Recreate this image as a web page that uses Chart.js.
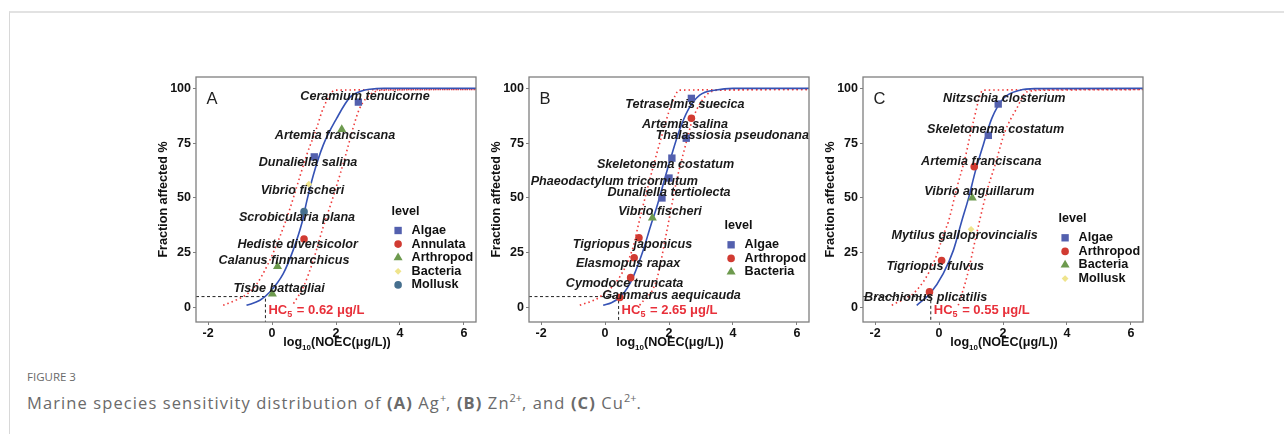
<!DOCTYPE html>
<html>
<head>
<meta charset="utf-8">
<script src="https://cdn.jsdelivr.net/npm/chart.js@4.4.0/dist/chart.umd.min.js"></script>
<style>
  body { margin: 0; background: #fff; width: 1284px; height: 434px; overflow: hidden; position: relative; }
  #frame { position: absolute; left: 9px; top: 11px; right: 0; bottom: 0; border-top: 2px solid #e2e2e2; border-left: 1px solid #d8d8d8; }
  .panel { position: absolute; top: 60px; width: 336px; height: 302px; }
  #capHead { position: absolute; left: 27px; top: 369px; font: 11.5px "Open Sans", sans-serif; color: #6a6a6a; }
  #capText { position: absolute; left: 27px; top: 391px; font: 16.5px "Open Sans", sans-serif; letter-spacing: 1.1px; color: #6a6a6a; white-space: nowrap; }
  #capText sup { font-size: 0.66em; line-height: 0; vertical-align: 0.6em; letter-spacing: 0; }
</style>
</head>
<body>
<div id="frame"></div>
<div class="panel" style="left:150px"><canvas id="chartA"></canvas></div>
<div class="panel" style="left:483px"><canvas id="chartB"></canvas></div>
<div class="panel" style="left:817px"><canvas id="chartC"></canvas></div>
<div id="capHead">FIGURE 3</div>
<div id="capText">Marine species sensitivity distribution of <b>(A)</b> Ag<sup>+</sup>, <b>(B)</b> Zn<sup>2+</sup>, and <b>(C)</b> Cu<sup>2+</sup>.</div>

<script>
// axis ticks shared by the three panels
const xTicks = [-2, 0, 2, 4, 6];
const yTicks = [0, 25, 50, 75, 100];
const X_MIN = -2.38, X_MAX = 6.38;
const Y_MIN = -6.6, Y_MAX = 105.2;

// Panel A - Ag+
const speciesA = ['Tisbe battagliai', 'Calanus finmarchicus', 'Hediste diversicolor', 'Scrobicularia plana',
  'Vibrio fischeri', 'Dunaliella salina', 'Artemia franciscana', 'Ceramium tenuicorne'];
const levelA = ['Arthropod', 'Arthropod', 'Annulata', 'Mollusk', 'Bacteria', 'Algae', 'Arthropod', 'Algae'];
const levelsA = ['Algae', 'Annulata', 'Arthropod', 'Bacteria', 'Mollusk'];
const noecA = [0.01, 0.17, 1.0, 1.0, 1.15, 1.32, 2.18, 2.70];
const fracA = [6.25, 18.75, 31.25, 43.75, 56.25, 68.75, 81.25, 93.75];
const labelXA = [0.22, 0.375, 0.80, 0.78, 0.95, 1.125, 1.97, 2.91];
const labelYA = [8.9, 21.3, 28.8, 40.9, 53.6, 66.0, 78.4, 96.2];
const fitXA = [-0.80, -0.38, -0.07, 0.35, 0.66, 0.95, 1.08, 1.29, 1.60, 2.02, 2.44, 2.80, 3.06, 3.50, 6.50];
const fitYA = [1.0, 3.3, 7.1, 15.5, 26.2, 39.5, 48.2, 60.4, 74.1, 86.3, 96.0, 98.8, 99.6, 100, 100];
const upXA = [-1.53, -1.11, -0.80, -0.49, -0.12, 0.24, 0.56, 0.82, 1.08, 1.39, 1.60, 1.97, 6.50];
const upYA = [1.0, 3.5, 6.0, 10.5, 20.1, 32.2, 45.2, 57.4, 69.5, 81.7, 90.9, 99.2, 99.5];
const loXA = [0.67, 0.98, 1.29, 1.60, 1.86, 2.12, 2.33, 2.53, 2.74, 3.10, 3.47, 6.50];
const loYA = [1.8, 9.4, 21.6, 36.8, 48.2, 60.4, 71.0, 81.7, 90.9, 97.5, 99.2, 99.5];
const hc5A = 0.62;

// Panel B - Zn2+
const speciesB = ['Gammarus aequicauda', 'Cymodoce truncata', 'Elasmopus rapax', 'Tigriopus japonicus',
  'Vibrio fischeri', 'Dunaliella tertiolecta', 'Phaeodactylum tricornutum', 'Skeletonema costatum',
  'Thalassiosia pseudonana', 'Artemia salina', 'Tetraselmis suecica'];
const levelB = ['Arthropod', 'Arthropod', 'Arthropod', 'Arthropod', 'Bacteria', 'Algae', 'Algae', 'Algae',
  'Algae', 'Arthropod', 'Algae'];
const levelsB = ['Algae', 'Arthropod', 'Bacteria'];
const noecB = [0.46, 0.80, 0.91, 1.06, 1.48, 1.78, 2.00, 2.09, 2.54, 2.70, 2.70];
const fracB = [4.55, 13.64, 22.73, 31.82, 40.91, 50.0, 59.09, 68.18, 77.27, 86.36, 95.45];
const labelXB = [2.08, 0.61, 0.72, 0.86, 1.72, 2.0, 0.29, 1.89, 3.98, 2.5, 2.5];
const labelYB = [5.6, 11.0, 20.1, 28.9, 43.7, 52.5, 57.4, 65.3, 78.4, 83.6, 92.7];
const fitXB = [-0.06, 0.20, 0.46, 0.70, 0.88, 1.19, 1.42, 1.61, 1.87, 2.07, 2.33, 2.59, 2.96, 3.48, 4.00, 6.50];
const fitYB = [1.0, 2.2, 4.6, 9.0, 14.0, 26.0, 37.0, 45.5, 58.9, 69.0, 81.0, 90.0, 96.9, 99.3, 100, 100];
const upXB = [-0.79, -0.17, 0.46, 0.88, 1.03, 1.19, 1.50, 1.81, 2.07, 2.33, 6.50];
const upYB = [1.0, 4.8, 14.0, 27.7, 37.0, 46.5, 64.0, 80.2, 92.4, 99.2, 99.5];
const loXB = [1.08, 1.61, 1.92, 2.00, 2.23, 2.49, 2.75, 3.17, 3.58, 6.50];
const loYB = [1.0, 12.5, 34.0, 40.0, 57.4, 72.6, 86.3, 96.9, 99.2, 99.5];
const hc5B = 2.65;

// Panel C - Cu2+
const speciesC = ['Brachionus plicatilis', 'Tigriopus fulvus', 'Mytilus galloprovincialis', 'Vibrio anguillarum',
  'Artemia franciscana', 'Skeletonema costatum', 'Nitzschia closterium'];
const levelC = ['Arthropod', 'Arthropod', 'Mollusk', 'Bacteria', 'Arthropod', 'Algae', 'Algae'];
const levelsC = ['Algae', 'Arthropod', 'Bacteria', 'Mollusk'];
const noecC = [-0.30, 0.08, 1.0, 1.04, 1.10, 1.54, 1.85];
const fracC = [7.14, 21.43, 35.71, 50.0, 64.29, 78.57, 92.86];
const labelXC = [-0.42, -0.12, 0.80, 1.26, 1.32, 1.77, 2.04];
const labelYC = [4.4, 18.9, 33.0, 52.8, 66.8, 81.3, 95.4];
const fitXC = [-0.70, -0.28, 0.13, 0.45, 0.71, 0.92, 1.13, 1.38, 1.65, 2.01, 2.53, 3.00, 6.50];
const fitYC = [1.0, 6.4, 15.5, 26.2, 39.5, 49.8, 61.9, 74.1, 86.3, 95.4, 99.2, 99.9, 100];
const upXC = [-1.48, -0.70, -0.18, 0.19, 0.29, 0.55, 0.81, 1.07, 1.38, 6.50];
const upYC = [1.0, 7.9, 20.1, 35.3, 39.1, 54.3, 68.0, 84.7, 99.2, 99.5];
const loXC = [0.60, 0.87, 1.13, 1.26, 1.49, 1.75, 2.06, 2.43, 2.74, 3.37, 6.50];
const loYC = [1.0, 14.0, 30.7, 39.1, 52.8, 65.0, 80.2, 90.9, 98.4, 99.2, 99.5];
const hc5C = 0.55;

// marker look by position in the level list (like ggplot's defaults)
const markers = [
  { color: '#5360ae', style: 'rect', radius: 5.2 },
  { color: '#d13b32', style: 'circle', radius: 3.8 },
  { color: '#6d9a4e', style: 'triangle', radius: 5.2 },
  { color: '#efe48c', style: 'rectRot', radius: 3.4 },
  { color: '#466f8e', style: 'circle', radius: 3.8 },
];

const BOLD = '"Liberation Sans", Arial, sans-serif';

function pairs(xs, ys) {
  return xs.map((v, i) => ({ x: v, y: ys[i] }));
}

// labels, legend, HC5 text, x title, panel letter and the box
const decorPlugin = {
  id: 'ssdDecor',
  afterDatasetsDraw(chart, args, p) {
    const ctx = chart.ctx;
    const xs = chart.scales.x, ys = chart.scales.y;
    const area = chart.chartArea;
    ctx.save();

    // species labels
    ctx.font = 'italic bold 12.6px ' + BOLD;
    ctx.fillStyle = '#1a1a1a';
    ctx.textAlign = 'center';
    ctx.textBaseline = 'middle';
    p.species.forEach((name, i) => {
      ctx.fillText(name, xs.getPixelForValue(p.labelX[i]), ys.getPixelForValue(p.labelY[i]));
    });

    // HC5 text
    const hx = xs.getPixelForValue(Math.log10(p.hc5)) + 3;
    const hy = ys.getPixelForValue(-1.5);
    ctx.fillStyle = '#e8303a';
    ctx.textAlign = 'left';
    ctx.font = 'bold 13px ' + BOLD;
    ctx.fillText('HC', hx, hy);
    let w = ctx.measureText('HC').width;
    ctx.font = 'bold 9px ' + BOLD;
    ctx.fillText('5', hx + w, hy + 4);
    w += ctx.measureText('5').width;
    ctx.font = 'bold 13px ' + BOLD;
    ctx.fillText(' = ' + p.hc5.toFixed(2) + ' \u03bcg/L', hx + w + 1, hy);

    // legend
    const lx = area.left + 195.6;
    let ly = area.top + p.legendTop;
    ctx.fillStyle = '#111';
    ctx.font = 'bold 12.6px ' + BOLD;
    ctx.fillText('level', lx, ly);
    ly += 18.8;
    p.levels.forEach((lv, i) => {
      const m = markers[i];
      ctx.fillStyle = m.color;
      Chart.helpers.drawPoint(ctx, { pointStyle: m.style, radius: m.radius, borderWidth: 0 }, lx + 6.5, ly);
      ctx.fillStyle = '#111';
      ctx.fillText(lv, lx + 20, ly);
      ly += 13.6;
    });

    // panel letter
    ctx.font = '16.5px ' + BOLD;
    ctx.fillStyle = '#222';
    ctx.fillText(p.letter, area.left + 10.5, area.top + 22);

    // box
    ctx.strokeStyle = '#7f7f7f';
    ctx.lineWidth = 1.3;
    ctx.strokeRect(area.left, area.top, area.right - area.left, area.bottom - area.top);

    // x axis title with subscript
    ctx.fillStyle = '#111';
    ctx.font = 'bold 12.6px ' + BOLD;
    const a = 'log', b = '10', c = '(NOEC(\u03bcg/L))';
    const wa = ctx.measureText(a).width, wc = ctx.measureText(c).width;
    ctx.font = 'bold 8px ' + BOLD;
    const wb = ctx.measureText(b).width;
    let tx = (area.left + area.right) / 2 - (wa + wb + wc) / 2 + 1;
    const ty = area.bottom + 21;
    ctx.font = 'bold 12.6px ' + BOLD;
    ctx.fillText(a, tx, ty);
    ctx.font = 'bold 8px ' + BOLD;
    ctx.fillText(b, tx + wa, ty + 5);
    ctx.font = 'bold 12.6px ' + BOLD;
    ctx.fillText(c, tx + wa + wb, ty);
    ctx.restore();
  }
};

function buildPanel(id, p) {
  const pointSets = p.levels.map((lv, i) => ({
    label: lv,
    data: p.noec.map((v, k) => ({ x: v, y: p.frac[k], lv: p.level[k] })).filter(d => d.lv === lv),
    pointStyle: markers[i].style,
    pointRadius: markers[i].radius,
    backgroundColor: markers[i].color,
    borderWidth: 0,
    showLine: false,
    order: 0,
  }));
  const hx = Math.log10(p.hc5);
  new Chart(document.getElementById(id), {
    type: 'scatter',
    data: {
      datasets: [
        ...pointSets,
        { label: 'fit', data: pairs(p.fitX, p.fitY), showLine: true, pointRadius: 0, borderColor: '#3552b5',
          borderWidth: 1.6, cubicInterpolationMode: 'monotone', order: 1 },
        { label: 'upper', data: pairs(p.upX, p.upY), showLine: true, pointRadius: 0, borderColor: '#ee3a3a',
          borderWidth: 1.6, borderDash: [1.5, 3], cubicInterpolationMode: 'monotone', order: 2 },
        { label: 'lower', data: pairs(p.loX, p.loY), showLine: true, pointRadius: 0, borderColor: '#ee3a3a',
          borderWidth: 1.6, borderDash: [1.5, 3], cubicInterpolationMode: 'monotone', order: 2 },
        { label: 'hc5', data: [{ x: X_MIN, y: 5 }, { x: hx, y: 5 }, { x: hx, y: Y_MIN }], showLine: true,
          pointRadius: 0, borderColor: '#222', borderWidth: 1, borderDash: [3, 2.5], order: 3 },
      ],
    },
    options: {
      responsive: true,
      maintainAspectRatio: false,
      animation: false,
      events: [],
      layout: { padding: { top: 17, right: 10, left: 0, bottom: 0 } },
      plugins: {
        legend: { display: false },
        tooltip: { enabled: false },
        ssdDecor: p,
      },
      scales: {
        x: {
          type: 'linear', min: X_MIN, max: X_MAX,
          afterBuildTicks: s => { s.ticks = xTicks.map(v => ({ value: v })); },
          afterFit: s => { s.height = 40; },
          grid: { drawOnChartArea: false, tickLength: 3, color: '#7f7f7f' },
          border: { display: false },
          ticks: { color: '#111', padding: 1, maxRotation: 0, font: { family: BOLD, size: 12.5, weight: 'bold' } },
        },
        y: {
          type: 'linear', min: Y_MIN, max: Y_MAX,
          afterBuildTicks: s => { s.ticks = yTicks.map(v => ({ value: v })); },
          afterFit: s => { s.width = 46; },
          grid: { drawOnChartArea: false, tickLength: 3, color: '#7f7f7f' },
          border: { display: false },
          ticks: { color: '#111', padding: 2, font: { family: BOLD, size: 12.5, weight: 'bold' } },
          title: { display: true, text: 'Fraction affected %', color: '#111', padding: { top: 6, bottom: 0 },
            font: { family: BOLD, size: 12.6, weight: 'bold' } },
        },
      },
    },
    plugins: [decorPlugin],
  });
}

buildPanel('chartA', { letter: 'A', species: speciesA, level: levelA, levels: levelsA, noec: noecA, frac: fracA,
  labelX: labelXA, labelY: labelYA, fitX: fitXA, fitY: fitYA, upX: upXA, upY: upYA, loX: loXA, loY: loYA,
  hc5: hc5A, legendTop: 134.7 });
buildPanel('chartB', { letter: 'B', species: speciesB, level: levelB, levels: levelsB, noec: noecB, frac: fracB,
  labelX: labelXB, labelY: labelYB, fitX: fitXB, fitY: fitYB, upX: upXB, upY: upYB, loX: loXB, loY: loYB,
  hc5: hc5B, legendTop: 149 });
buildPanel('chartC', { letter: 'C', species: speciesC, level: levelC, levels: levelsC, noec: noecC, frac: fracC,
  labelX: labelXC, labelY: labelYC, fitX: fitXC, fitY: fitYC, upX: upXC, upY: upYC, loX: loXC, loY: loYC,
  hc5: hc5C, legendTop: 142 });
</script>
</body>
</html>
